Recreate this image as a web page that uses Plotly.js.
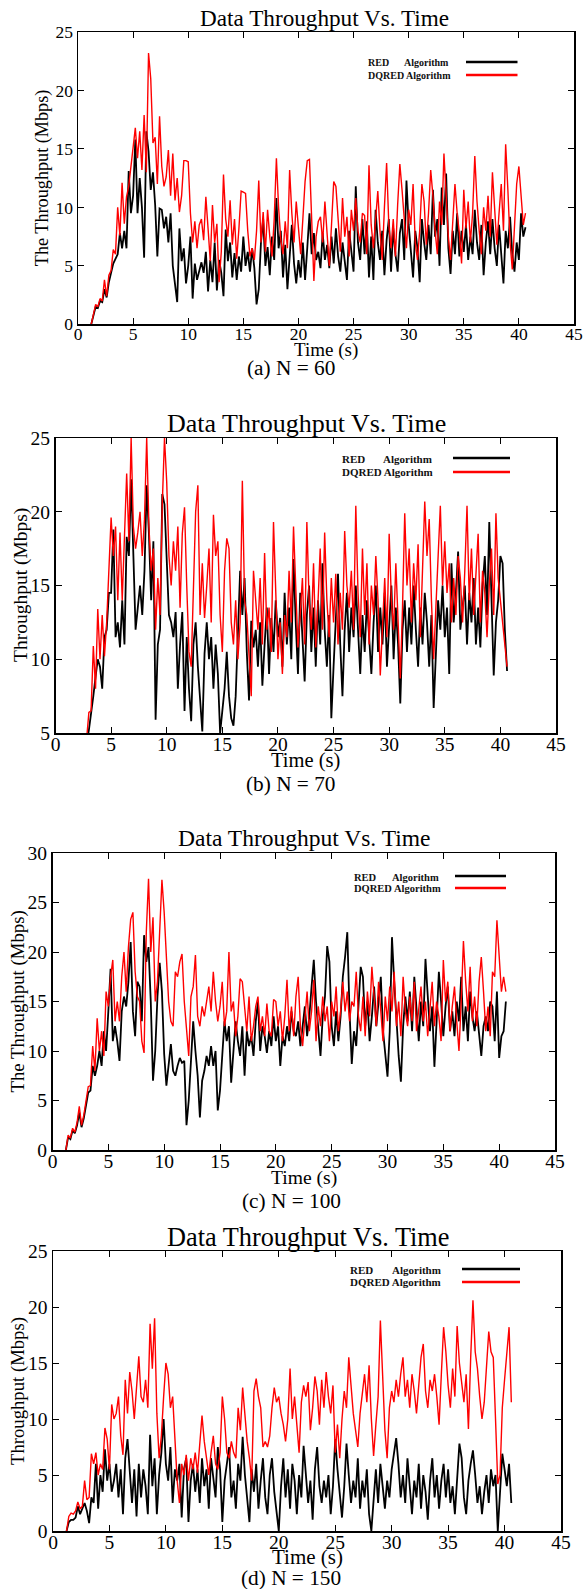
<!DOCTYPE html>
<html><head><meta charset="utf-8">
<script src="https://cdn.plot.ly/plotly-3.0.1.min.js"></script>
<style>html,body{margin:0;padding:0;background:#fff}</style>
</head><body><div id="chart" style="width:584px;height:1589px"></div>
<script>
// Time axis (s)
const time = [
1.0,1.2,1.4,1.6,1.8,2.0,2.2,2.4,2.6,2.8,3.0,3.2,3.4,3.6,3.8,4.0,4.2,4.4,4.6,4.8,5.0,5.2,5.4,5.6,5.8,
6.0,6.2,6.4,6.6,6.8,7.0,7.2,7.4,7.6,7.8,8.0,8.2,8.4,8.6,8.8,9.0,9.2,9.4,9.6,9.8,10.0,10.2,10.4,10.6,10.8,
11.0,11.2,11.4,11.6,11.8,12.0,12.2,12.4,12.6,12.8,13.0,13.2,13.4,13.6,13.8,14.0,14.2,14.4,14.6,14.8,15.0,15.2,15.4,15.6,15.8,
16.0,16.2,16.4,16.6,16.8,17.0,17.2,17.4,17.6,17.8,18.0,18.2,18.4,18.6,18.8,19.0,19.2,19.4,19.6,19.8,20.0,20.2,20.4,20.6,20.8,
21.0,21.2,21.4,21.6,21.8,22.0,22.2,22.4,22.6,22.8,23.0,23.2,23.4,23.6,23.8,24.0,24.2,24.4,24.6,24.8,25.0,25.2,25.4,25.6,25.8,
26.0,26.2,26.4,26.6,26.8,27.0,27.2,27.4,27.6,27.8,28.0,28.2,28.4,28.6,28.8,29.0,29.2,29.4,29.6,29.8,30.0,30.2,30.4,30.6,30.8,
31.0,31.2,31.4,31.6,31.8,32.0,32.2,32.4,32.6,32.8,33.0,33.2,33.4,33.6,33.8,34.0,34.2,34.4,34.6,34.8,35.0,35.2,35.4,35.6,35.8,
36.0,36.2,36.4,36.6,36.8,37.0,37.2,37.4,37.6,37.8,38.0,38.2,38.4,38.6,38.8,39.0,39.2,39.4,39.6,39.8,40.0,40.2,40.4,40.6];

// (a) N = 60
const red_N60 = [
null,0.0,0.7,1.5,1.4,2.0,1.9,3.0,2.3,3.6,4.4,5.2,5.6,6.0,7.8,6.5,8.0,6.5,13.1,9.5,11.0,15.8,9.5,12.5,10.0,
5.7,16.5,14.8,11.5,13.0,10.2,5.8,9.9,9.8,8.2,9.2,7.0,9.5,5.0,3.6,1.9,8.2,5.4,6.5,3.5,5.0,7.5,2.2,5.2,3.8,
4.6,5.3,4.4,6.2,2.8,5.5,3.6,7.0,2.9,5.5,4.4,2.4,8.1,5.4,7.0,4.0,6.1,3.8,5.8,4.5,7.5,5.0,6.2,4.5,6.5,
4.8,1.7,3.0,7.0,9.0,5.0,6.6,4.2,7.5,5.5,10.8,6.5,8.0,4.0,6.8,3.0,5.8,8.5,5.2,3.5,5.5,4.0,7.0,3.8,6.5,
9.5,6.0,7.8,5.5,6.2,4.8,7.8,5.5,6.8,4.8,7.5,5.2,8.2,5.8,4.5,7.0,5.5,3.8,8.0,6.0,4.5,11.8,7.0,5.5,9.0,
6.0,8.8,4.0,7.5,3.8,9.8,7.0,5.5,8.0,4.2,7.2,9.0,4.5,8.2,6.0,4.5,7.8,9.0,5.5,12.3,8.5,6.0,4.0,8.0,6.5,
3.6,9.0,7.0,5.5,8.5,6.0,11.5,7.5,9.0,5.0,11.7,8.5,12.9,6.5,4.3,8.0,6.0,9.5,5.8,8.0,6.2,8.5,5.5,7.5,6.0,
9.8,7.0,5.5,8.5,4.2,7.0,8.8,6.0,9.0,6.5,5.0,8.5,6.0,3.5,8.0,6.5,9.2,6.0,4.5,7.0,5.5,9.5,7.5,8.3];
const dqred_N60 = [
null,0.0,0.8,1.7,1.5,2.2,2.0,3.8,2.4,4.2,4.6,6.4,6.0,10.0,7.6,12.1,8.6,10.9,11.8,13.6,15.5,16.8,14.2,16.5,13.2,
17.9,13.0,23.2,21.0,15.5,16.0,12.0,17.8,13.5,11.8,12.6,14.9,11.0,14.6,10.6,12.5,9.6,11.0,14.0,14.0,13.9,9.5,7.0,8.8,6.5,
8.5,9.0,7.2,10.9,8.2,5.4,10.2,7.0,8.6,3.6,6.2,12.8,9.0,7.5,10.6,6.8,9.0,5.6,8.2,11.4,11.3,11.2,8.0,5.8,6.5,
5.5,8.0,12.3,7.0,9.6,6.2,9.8,7.5,5.8,9.0,14.2,10.0,7.2,6.0,8.8,6.5,13.2,9.5,7.0,10.5,8.2,6.0,9.0,12.2,14.0,
14.1,9.0,3.7,7.5,8.8,9.2,7.0,10.5,8.0,5.0,8.5,12.2,11.8,9.0,6.2,10.8,7.5,9.2,5.8,9.8,8.0,10.8,8.0,7.0,9.5,
9.3,6.0,13.6,8.5,6.5,9.0,11.4,8.0,5.5,10.0,13.8,8.5,6.5,9.0,5.8,10.2,13.7,11.5,9.0,6.5,9.8,8.5,12.0,7.0,5.5,
8.0,12.0,10.5,6.8,9.5,13.2,11.0,8.0,6.0,10.5,8.5,14.6,11.0,7.5,5.5,9.0,12.0,9.5,7.8,5.2,11.5,8.2,10.5,7.0,9.5,
14.4,10.5,8.0,6.0,10.0,8.0,11.0,7.5,13.0,10.2,6.8,9.5,12.0,8.0,15.4,11.5,7.0,4.7,9.0,12.0,13.5,11.0,8.5,9.5];

// (b) N = 70
const red_N70 = [
null,0.0,0.7,1.4,1.7,2.2,2.6,3.2,3.8,4.3,5.2,6.2,7.5,8.8,10.0,9.5,8.0,11.5,12.0,14.5,14.5,18.8,11.5,12.5,10.8,
14.0,11.0,18.3,17.0,22.2,16.5,12.0,13.5,15.0,13.0,16.0,21.8,18.5,14.0,18.0,5.9,11.0,12.0,21.2,20.5,16.0,13.0,12.5,11.5,13.2,
8.0,11.0,13.2,6.5,11.5,8.0,5.8,11.0,12.5,9.5,7.5,5.1,10.4,12.5,10.0,11.5,8.0,11.0,9.0,5.0,6.5,8.0,10.5,7.5,6.0,
5.5,7.5,12.0,16.0,13.0,15.5,10.5,7.2,12.6,10.8,12.0,9.5,12.5,8.2,11.0,13.5,9.0,12.8,10.5,14.0,11.5,12.8,9.5,14.5,11.0,
13.5,10.0,16.8,12.5,9.0,14.5,11.5,8.5,13.0,15.0,10.5,13.5,9.5,14.0,11.0,16.5,12.0,9.5,13.0,6.0,9.5,12.5,15.8,11.0,7.5,
12.0,14.5,10.5,13.5,11.5,15.0,12.0,9.0,13.0,10.5,14.0,11.0,9.0,12.5,15.0,10.5,13.5,11.0,14.5,9.5,12.0,15.0,10.0,13.5,11.0,
7.0,12.0,14.0,10.5,13.5,11.0,15.0,12.0,9.5,13.5,11.0,14.5,12.5,9.5,13.0,6.7,10.5,14.0,12.0,15.0,11.5,13.5,9.0,16.5,12.5,
14.5,17.3,12.0,13.5,15.0,11.0,14.5,12.5,15.5,11.0,13.5,10.8,15.0,17.0,13.0,19.3,14.0,8.9,12.5,14.0,17.0,16.5,12.0,9.2];
const dqred_N70 = [
null,0.0,0.8,1.5,1.8,2.4,2.8,3.4,4.0,4.6,6.4,6.5,10.9,8.0,13.4,10.0,13.0,10.2,12.5,16.0,19.6,17.0,19.0,14.0,18.6,
14.0,18.0,22.6,18.0,25.0,19.0,17.5,18.6,20.0,17.0,19.5,25.0,19.0,16.0,17.5,12.0,15.5,13.0,20.5,25.0,22.0,17.0,15.0,18.0,16.0,
19.0,13.5,18.5,20.3,15.0,10.5,9.5,15.0,20.0,21.8,13.0,16.5,12.8,15.0,17.5,12.5,19.8,17.0,18.0,13.0,10.5,16.0,18.2,17.5,12.5,
11.0,14.0,10.0,12.5,22.1,14.0,13.0,10.5,7.5,16.0,14.0,12.0,15.5,11.0,17.2,12.0,13.5,10.5,19.3,14.0,10.0,12.5,9.0,13.0,11.5,
16.0,12.5,19.0,14.5,10.8,13.0,15.5,11.0,19.3,14.0,12.0,16.5,10.8,13.8,17.5,12.0,18.6,14.0,11.5,15.5,12.5,15.8,11.0,14.5,12.0,
18.7,15.0,13.5,16.0,12.0,20.4,14.5,11.5,17.5,13.0,16.5,11.0,15.0,13.0,17.0,14.0,8.9,12.5,15.5,11.5,18.5,14.0,12.0,16.5,13.0,
8.7,13.5,19.9,15.0,17.5,12.5,16.5,14.0,17.8,11.5,15.5,20.7,17.0,19.5,14.0,10.0,13.5,16.5,20.4,15.0,18.0,14.5,16.5,12.5,15.5,
13.0,17.0,15.5,12.5,16.0,20.4,14.0,17.5,13.0,15.5,18.5,12.5,16.0,14.5,11.5,15.0,17.5,13.0,19.9,15.5,14.0,12.5,11.0,9.5];

// (c) N = 100
const red_N100 = [
null,0.0,1.3,1.1,2.0,1.7,2.5,3.8,2.3,3.2,4.5,5.8,6.0,8.5,7.5,8.5,10.0,8.5,12.0,10.0,14.0,18.3,11.0,12.5,11.0,
9.0,14.0,15.5,14.5,17.0,21.0,14.0,11.5,17.0,16.5,13.0,21.7,19.0,20.5,15.0,7.0,10.0,15.5,18.9,16.0,9.7,6.5,9.0,10.7,8.0,
7.5,8.5,9.3,8.8,9.0,2.5,5.0,9.0,13.0,10.0,7.5,3.3,7.0,8.0,9.5,8.5,10.5,8.5,10.0,4.0,6.0,9.5,13.0,11.0,12.5,
6.8,10.0,13.0,11.0,9.5,12.5,7.5,12.0,10.5,11.5,9.5,13.0,15.0,10.0,12.5,11.5,9.8,12.0,10.5,13.5,11.0,12.5,8.5,11.5,10.5,
12.5,11.0,14.0,12.0,11.5,13.0,10.5,12.5,14.5,11.5,13.5,16.5,19.2,15.0,12.0,9.5,13.5,15.5,20.6,19.0,12.5,10.5,14.0,11.0,13.5,
17.5,19.5,22.0,14.0,8.7,12.0,10.5,14.5,18.5,17.5,12.5,15.0,11.0,13.5,16.5,12.5,15.0,17.5,12.0,10.0,7.4,12.0,21.5,17.0,13.0,
9.5,6.9,12.5,15.5,13.0,16.0,12.0,17.5,14.0,11.0,15.0,12.5,19.3,15.5,12.0,14.5,8.4,13.0,18.0,15.0,11.5,14.5,16.5,12.0,14.0,
11.5,15.0,13.0,17.5,12.0,14.5,11.0,16.0,13.5,12.0,14.0,11.5,9.5,12.5,13.5,12.0,15.0,14.5,11.0,16.0,9.3,11.5,12.0,15.0];
const dqred_N100 = [
null,0.0,1.5,1.2,2.2,1.8,2.8,4.4,2.5,3.5,4.8,6.4,6.5,10.5,8.0,13.3,10.0,12.0,9.5,16.0,14.5,17.5,19.2,13.0,15.0,
13.0,17.5,20.0,16.0,20.5,23.3,24.0,18.0,15.5,15.0,11.0,9.8,22.0,27.4,20.0,23.5,15.0,17.0,23.0,27.3,24.0,19.5,15.0,13.0,12.5,
18.0,17.5,19.0,19.8,15.0,12.5,9.5,15.5,16.5,19.7,13.5,12.5,14.5,13.5,15.0,16.5,14.0,18.0,15.0,13.0,14.5,17.0,12.5,14.0,20.0,
14.0,15.0,11.5,13.5,17.3,17.0,14.0,12.0,15.5,11.0,12.5,14.5,15.5,12.0,13.5,11.5,14.8,12.0,11.5,15.2,15.0,12.5,14.0,11.0,13.5,
17.2,12.0,14.5,11.5,15.5,17.5,12.5,10.5,13.5,16.0,12.0,14.0,17.2,11.0,14.5,12.5,15.5,13.0,14.5,11.0,15.0,13.5,16.5,12.0,14.0,
17.0,14.0,16.0,13.0,15.0,14.5,18.0,13.5,12.0,15.5,11.5,16.0,13.5,18.5,15.0,12.5,17.0,14.0,11.0,15.5,13.0,16.5,14.0,18.0,12.5,
15.0,11.5,17.5,14.0,12.5,15.5,13.0,17.0,12.0,14.5,16.5,13.0,15.0,11.5,14.0,17.0,12.5,15.0,13.5,11.0,19.2,15.0,17.0,12.0,14.5,
16.5,13.0,10.0,15.0,21.1,17.0,14.0,18.5,13.0,15.5,12.5,17.0,19.5,16.0,12.0,14.5,11.5,18.0,17.5,23.2,20.0,16.0,17.5,16.0];

// (d) N = 150
const red_N150 = [
null,0.0,0.8,1.0,1.0,1.2,2.2,1.5,2.0,2.5,1.8,0.7,3.0,2.5,6.0,2.0,5.0,3.5,7.3,4.5,6.0,3.5,4.5,6.0,3.0,
5.5,1.5,6.5,8.2,5.0,2.5,5.5,1.3,6.0,3.0,5.5,4.0,1.5,8.6,4.0,6.5,1.5,5.0,7.0,10.0,6.0,4.5,7.5,2.5,5.5,
4.5,6.0,1.2,5.5,6.5,0.8,4.5,6.0,3.5,5.5,2.5,6.5,4.0,5.5,2.0,6.5,5.0,3.0,7.5,5.5,0.8,4.5,6.0,7.5,3.0,
4.5,2.0,6.0,4.5,8.4,5.0,2.5,0.8,5.5,3.5,6.0,2.0,4.5,6.5,3.0,1.5,5.0,6.5,3.5,1.8,0.0,4.0,6.5,3.0,5.5,
2.0,6.0,4.5,1.5,5.0,3.0,7.6,5.0,2.5,4.5,1.0,5.5,7.5,4.0,2.5,4.5,3.0,5.0,1.5,4.0,8.2,5.5,3.0,1.2,4.0,
7.8,5.0,2.5,4.5,3.0,6.5,2.0,4.5,3.0,5.5,1.5,0.0,3.0,5.5,2.5,6.0,4.0,2.0,4.5,3.0,5.5,7.0,8.3,6.0,3.0,
5.0,2.5,6.5,4.0,1.5,4.5,3.0,6.0,2.0,5.0,3.5,1.0,4.5,6.5,3.0,5.0,2.0,4.5,6.0,3.0,5.5,2.5,4.0,1.5,5.0,
7.8,6.5,3.0,1.5,4.5,6.0,7.2,5.0,2.5,4.0,1.5,3.5,5.0,2.5,5.5,4.0,5.0,0.0,3.0,6.9,5.5,4.0,6.0,2.5];
const dqred_N150 = [
null,0.0,1.3,1.6,1.5,1.8,2.6,2.0,2.2,4.5,2.8,3.0,6.9,6.0,7.0,5.0,6.0,5.5,9.2,8.2,5.5,11.3,10.0,10.5,12.0,
8.5,6.8,13.5,10.5,14.2,12.5,10.0,13.0,15.6,12.0,11.5,13.5,11.0,18.5,14.5,19.0,10.5,6.5,8.5,12.0,15.0,14.0,11.0,12.0,8.0,
4.5,2.5,6.0,5.0,6.8,4.5,6.5,5.5,7.0,5.2,7.5,10.3,8.0,6.5,5.0,7.0,8.5,6.0,5.5,7.0,12.0,10.0,7.0,6.5,8.0,
7.0,6.5,11.0,9.0,12.8,10.5,8.0,6.5,4.5,12.5,13.6,12.0,11.0,7.5,8.0,7.5,8.5,11.0,12.8,11.5,12.0,10.5,9.5,8.0,10.0,
14.5,10.0,12.0,9.5,7.0,11.5,13.0,12.0,13.3,9.0,11.0,13.8,12.5,9.5,13.5,11.0,14.2,12.0,10.5,13.0,7.0,9.5,6.5,10.0,12.5,
11.0,15.5,13.0,10.5,9.0,7.5,10.5,12.5,14.0,11.5,14.8,10.0,6.7,9.5,12.0,18.8,14.0,9.0,6.5,11.0,12.5,11.5,13.5,12.0,14.0,
15.5,12.0,13.5,11.0,14.0,12.5,10.5,13.0,15.5,16.7,12.5,11.0,13.5,12.5,14.0,12.0,9.5,14.0,18.2,16.0,13.0,11.0,14.5,12.0,18.3,
15.0,13.0,11.5,14.0,9.1,15.5,20.6,16.0,14.5,12.0,10.0,11.5,15.0,17.8,16.0,15.5,10.0,4.2,5.0,11.0,13.5,16.0,18.2,11.5];

const seriesNames = ['RED Algorithm', 'DQRED Algorithm'];
const panelTitle = 'Data Throughput Vs. Time';
const xTitle = 'Time (s)';
const captions = ['(a) N = 60', '(b) N = 70', '(c) N = 100', '(d) N = 150'];
const yTitles = ['The Throughput (Mbps)', 'Throughput (Mbps)', 'The Throughput (Mbps)', 'Throughput (Mbps)'];
const yRanges = [[0, 25], [5, 25], [0, 30], [0, 25]];
const xRange = [0, 45];

const W = 584, H = 1589;
const F = 'Liberation Serif, Times New Roman, serif';
const PX = v => v / W;
const PY = v => 1 - v / H;

// Layout geometry (pixels) per panel
const geo = [
  {l: 78,   r: 574, t: 32,   b: 324.3, titleX: 325, titleY: 18,   titleFs: 23.2, capY: 368,  tickFs: 17.5,
   xtY: 350,  xtFs: 19,   ytX: 42, ytFs: 18.2,
   leg: {x: 365.5, algX: 401.5, y1: 63,   y2: 75,   lx0: 466, lx1: 517.5, fs: 10}},
  {l: 55.5, r: 556, t: 438,  b: 733,   titleX: 306, titleY: 423,  titleFs: 26,   capY: 784,  tickFs: 19.5,
   xtY: 760,  xtFs: 20.5, ytX: 20.5, ytFs: 19.5,
   leg: {x: 340,   algX: 381,   y1: 459,  y2: 472,  lx0: 453, lx1: 510,   fs: 11}},
  {l: 52.5, r: 555, t: 853,  b: 1150,  titleX: 304, titleY: 838,  titleFs: 23.5, capY: 1201, tickFs: 19.5,
   xtY: 1178, xtFs: 19.6, ytX: 17, ytFs: 18.8,
   leg: {x: 352,   algX: 390,   y1: 877,  y2: 888,  lx0: 455, lx1: 506,   fs: 10.5}},
  {l: 53,   r: 561, t: 1251, b: 1531,  titleX: 308, titleY: 1237, titleFs: 26.3, capY: 1578, tickFs: 19.5,
   xtY: 1557, xtFs: 21,   ytX: 18, ytFs: 18.7,
   leg: {x: 347.5, algX: 390,   y1: 1270, y2: 1282, lx0: 462, lx1: 520,   fs: 11}}
];

const data = [[red_N60, dqred_N60], [red_N70, dqred_N70], [red_N100, dqred_N100], [red_N150, dqred_N150]];

const traces = [];
const layout = {
  width: W, height: H, autosize: false,
  margin: {l: 0, r: 0, t: 0, b: 0, pad: 0},
  paper_bgcolor: '#fff', plot_bgcolor: '#fff',
  showlegend: false,
  font: {family: F, color: '#000'},
  annotations: [], shapes: []
};

const ann = (x, y, text, size, extra) => Object.assign({
  xref: 'paper', yref: 'paper', x: PX(x), y: PY(y), xanchor: 'center', yanchor: 'middle',
  showarrow: false, text: text, font: {family: F, size: size, color: '#000'}
}, extra || {});

geo.forEach((g, i) => {
  const n = i === 0 ? '' : String(i + 1);
  const xn = 'x' + n, yn = 'y' + n;
  traces.push({
    x: time, y: data[i][0], xaxis: xn, yaxis: yn, type: 'scatter', mode: 'lines',
    name: seriesNames[0], line: {color: '#000000', width: 1.8}, connectgaps: false
  });
  traces.push({
    x: time, y: data[i][1], xaxis: xn, yaxis: yn, type: 'scatter', mode: 'lines',
    name: seriesNames[1], line: {color: '#ff0000', width: 1.4}, connectgaps: false
  });
  const common = {
    ticks: 'inside', ticklen: 6, tickwidth: 1, tickcolor: '#000',
    showline: true, linecolor: '#000', linewidth: 1.5, mirror: 'ticks',
    showgrid: false, zeroline: false, automargin: false, fixedrange: true,
    tickfont: {family: F, size: g.tickFs, color: '#000'}
  };
  layout['xaxis' + n] = Object.assign({}, common, {
    domain: [PX(g.l), PX(g.r)], anchor: yn, range: xRange, tick0: 0, dtick: 5,
    ticklabelstandoff: -7
  });
  layout['yaxis' + n] = Object.assign({}, common, {
    domain: [PY(g.b), PY(g.t)], anchor: xn, range: yRanges[i], tick0: 0, dtick: 5
  });
  // panel title, axis titles and caption
  layout.annotations.push(ann(g.titleX, g.titleY, panelTitle, g.titleFs));
  layout.annotations.push(ann((g.l + g.r) / 2, g.xtY, xTitle, g.xtFs));
  layout.annotations.push(ann(g.ytX, (g.t + g.b) / 2, yTitles[i], g.ytFs, {textangle: -90}));
  layout.annotations.push(ann(291, g.capY, captions[i], 21.3));
  // legend (text left, line sample right)
  const L = g.leg;
  const lf = {family: F, size: L.fs, color: '#111'};
  layout.annotations.push(ann(L.x, L.y1, '<b>RED</b>', L.fs, {xanchor: 'left', font: lf}));
  layout.annotations.push(ann(L.algX, L.y1, '<b>Algorithm</b>', L.fs, {xanchor: 'left', font: lf}));
  layout.annotations.push(ann(L.x, L.y2, '<b>DQRED Algorithm</b>', L.fs, {xanchor: 'left', font: lf}));
  layout.shapes.push({type: 'line', xref: 'paper', yref: 'paper', x0: PX(L.lx0), x1: PX(L.lx1), y0: PY(L.y1 - 1), y1: PY(L.y1 - 1),
    line: {color: '#000', width: 2.5}});
  layout.shapes.push({type: 'line', xref: 'paper', yref: 'paper', x0: PX(L.lx0), x1: PX(L.lx1), y0: PY(L.y2), y1: PY(L.y2),
    line: {color: '#ff0000', width: 2.5}});
});

Plotly.newPlot('chart', traces, layout, {displayModeBar: false, staticPlot: true});
</script>
</body></html>
